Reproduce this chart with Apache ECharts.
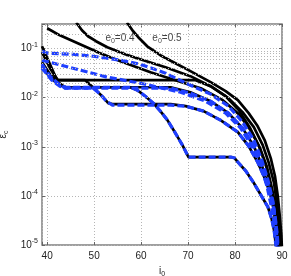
<!DOCTYPE html>
<html><head><meta charset="utf-8">
<script src="https://cdn.jsdelivr.net/npm/echarts@6/dist/echarts.min.js"></script>
<style>html,body{margin:0;padding:0;background:#fff}#c{width:291px;height:276px}</style>
</head><body><div id="c"></div>
<script>
// axis ranges / ticks
const xRange = [38.9, 90];
const yRange = [1e-5, 0.316];
const yMinorGrid = [2e-5,3e-5,4e-5,5e-5,6e-5,7e-5,8e-5,9e-5,
  2e-4,3e-4,4e-4,5e-4,6e-4,7e-4,8e-4,9e-4,
  2e-3,3e-3,4e-3,5e-3,6e-3,7e-3,8e-3,9e-3,
  2e-2,3e-2,4e-2,5e-2,6e-2,7e-2,8e-2,9e-2,
  2e-1,3e-1];

// black solid curves (analytic)  [i0, eps_c]
const K1 = [[57.0,0.34],[57.3,0.312],[58.3,0.225],[59.4,0.170],[61.3,0.111],[64.1,0.0731],[67.3,0.0503],[70.5,0.0346],[74.8,0.0207],[78.0,0.0136],[80.6,0.00889],[82.9,0.00484],[84.8,0.00264],[86.3,0.00137],[87.6,0.000589],[88.5,0.000254],[89.1,9.95e-5],[89.5,4.09e-5],[89.86,1.6e-5],[90.0,7.9e-6]];
const K2 = [[46.2,0.34],[46.4,0.312],[47.4,0.236],[48.7,0.178],[50.4,0.141],[52.8,0.106],[56.6,0.0765],[59.8,0.0606],[65.2,0.0417],[70.5,0.0274],[74.8,0.0171],[78.6,0.00977],[81.6,0.00507],[84.0,0.00251],[85.9,0.00108],[87.2,0.000466],[88.3,0.000183],[88.9,7.18e-5],[89.4,2.56e-5],[89.75,7.9e-6]];
const K3 = [[40.0,0.259],[42.7,0.186],[47.0,0.122],[51.3,0.0802],[55.6,0.0552],[62.0,0.0330],[67.3,0.0227],[72.7,0.0156],[77.4,0.00889],[80.8,0.00462],[83.3,0.00218],[85.3,0.000942],[86.8,0.000386],[87.8,0.000152],[88.7,5.68e-5],[89.2,2.23e-5],[89.5,7.9e-6]];
const K4 = [[38.9,0.111],[40.6,0.048],[42.1,0.0227],[71.6,0.0227],[74.8,0.0171],[78.0,0.0107],[80.8,0.00557],[83.1,0.00251],[85.1,0.00103],[86.6,0.000406],[87.6,0.000159],[88.5,5.94e-5],[89.0,2.23e-5],[89.3,7.9e-6]];
const K5 = [[38.9,0.0527],[40.6,0.0301],[42.3,0.0207],[43.8,0.0163],[66.3,0.0163],[70.5,0.0129],[74.8,0.00849],[78.6,0.00484],[81.6,0.0024],[84.0,0.00103],[85.7,0.000425],[87.0,0.000167],[88.1,6.53e-5],[88.7,2.44e-5],[89.1,7.9e-6]];
const K6 = [[38.9,0.0841],[40.6,0.0398],[42.3,0.0227],[48.1,0.0227],[50.2,0.0149],[51.9,0.0102],[53.0,0.00773],[53.9,0.00738],[66.3,0.00738],[69.5,0.00672],[73.3,0.00532],[76.9,0.00349],[80.6,0.00199],[82.9,0.00103],[84.8,0.000489],[86.3,0.000231],[87.6,0.000104],[88.5,4.09e-5],[89.0,1.6e-5],[89.2,7.9e-6]];
const K7 = [[38.9,0.0437],[40.6,0.0261],[42.3,0.0188],[44.0,0.0163],[57.7,0.0163],[59.2,0.0142],[60.9,0.0107],[62.6,0.00773],[64.1,0.00532],[65.6,0.00349],[67.3,0.0019],[68.8,0.00108],[70.1,0.000618],[79.1,0.000618],[79.9,0.000589],[80.6,0.000489],[82.3,0.000321],[84.0,0.000183],[85.5,0.000104],[87.0,5.94e-5],[87.8,3.39e-5],[88.3,2.03e-5],[88.7,1.0e-5],[88.9,7.5e-6]];

// blue dashed curves (numerical)
const D1 = [[38.9,0.0881],[40.2,0.0802],[45.5,0.0765],[49.8,0.0697],[55.6,0.0578],[59.8,0.048],[65.2,0.0315],[70.5,0.0179],[74.8,0.0118],[78.6,0.00672],[81.6,0.00318],[84.0,0.00137],[85.7,0.000537],[87.0,0.00021],[88.1,7.52e-5],[88.7,2.56e-5],[89.2,7.9e-6]];
const D2 = [[38.9,0.0578],[45.5,0.0398],[52.8,0.0261],[59.8,0.0197],[68.4,0.0129],[73.7,0.00849],[78.0,0.00484],[81.2,0.0024],[83.6,0.00103],[85.5,0.000406],[86.8,0.000159],[87.8,5.68e-5],[88.6,2.03e-5],[89.0,7.9e-6]];
const D3 = [[38.9,0.048],[40.6,0.0274],[42.3,0.0197],[43.8,0.0156],[66.3,0.0156],[70.5,0.0123],[74.8,0.00849],[78.6,0.00484],[81.6,0.0024],[84.0,0.00103],[85.7,0.000425],[87.0,0.000167],[88.1,6.53e-5],[88.7,2.44e-5],[89.1,7.9e-6]];
const D4 = [[38.9,0.0398],[41.0,0.0227],[42.7,0.0171],[44.0,0.0156],[49.8,0.0156],[51.3,0.0118],[52.6,0.00849],[53.9,0.00704],[66.3,0.00704],[69.5,0.00672],[73.3,0.00532],[76.9,0.00349],[80.6,0.00199],[82.9,0.00103],[84.8,0.000489],[86.3,0.000231],[87.6,0.000104],[88.5,4.09e-5],[89.0,1.6e-5],[89.2,7.9e-6]];
const D5 = [[38.9,0.0437],[40.6,0.0261],[42.3,0.0188],[44.0,0.0163],[57.7,0.0163],[59.2,0.0142],[60.9,0.0107],[62.6,0.00773],[64.1,0.00532],[65.6,0.00349],[67.3,0.0019],[68.8,0.00108],[70.1,0.000618],[79.1,0.000618],[79.9,0.000589],[80.6,0.000489],[82.3,0.000321],[84.0,0.000183],[85.5,0.000104],[87.0,5.94e-5],[87.8,3.39e-5],[88.3,2.03e-5],[88.7,1.0e-5],[88.9,7.5e-6]];

const labels = [{text:'0.4', at:[52.4,0.16]}, {text:'0.5', at:[62.4,0.16]}];

const FONT = 'Liberation Sans';
const chart = echarts.init(document.getElementById('c'), null, {renderer:'canvas'});

function blackSeries(d){return {type:'line', data:d, symbol:'none', z:3, silent:true,
  lineStyle:{color:'#000', width:2.7, join:'round'}, xAxisIndex:0, yAxisIndex:0};}
function blueSeries(d){return {type:'line', data:d, symbol:'none', z:4, silent:true,
  lineStyle:{color:'#1f3fff', width:3.2, type:[7,3], join:'round'}, xAxisIndex:0, yAxisIndex:0};}

const series = [];
series.push({type:'line', data:[], z:1, silent:true,
  markLine:{silent:true, symbol:'none', label:{show:false}, animation:false,
    lineStyle:{type:[1,2], color:'#b5b5b5', width:1},
    data: yMinorGrid.map(v=>({yAxis:v}))}});
[K1,K2,K3,K4,K5,K6,K7].forEach(d=>series.push(blackSeries(d)));
[D1,D2,D3,D4,D5].forEach(d=>series.push(blueSeries(d)));
series.push({type:'scatter', symbolSize:0, z:6, silent:true,
  data: labels.map(l=>({value:l.at, name:l.text})),
  label:{show:true, position:'right', distance:0, color:'#111', fontFamily:FONT,
    formatter:p=>'{e|e}{s|0}{e|='+p.name+'}',
    rich:{e:{fontSize:10, fontFamily:FONT, color:'#111'}, s:{fontSize:7, fontFamily:FONT, color:'#111', padding:[6,0,0,0]}}}});

function yFmt(v){
  const e = Math.log10(v); const r = Math.round(e);
  if (Math.abs(e-r) > 1e-6) return '';
  return '{b|10}{s|'+r+'}';
}
const tickStyle = {inside:true, length:3, lineStyle:{color:'#666'}};
chart.setOption({
  animation:false,
  grid:{left:42, top:24, right:9, bottom:31, show:true, borderColor:'#808080', borderWidth:1.5,
    containLabel:false, outerBoundsMode:'none'},
  xAxis:[{type:'value', min:xRange[0], max:xRange[1],
    name:'{a|i}{s|0}', nameLocation:'middle', nameGap:14,
    nameTextStyle:{rich:{a:{fontSize:10,fontFamily:FONT,color:'#222'}, s:{fontSize:7,fontFamily:FONT,color:'#222',padding:[6,0,0,0]}}},
    axisLine:{show:false}, axisTick:tickStyle,
    axisLabel:{fontSize:10, fontFamily:FONT, color:'#222', margin:6, formatter:v=> (Math.abs(v%10)<1e-9? String(v):'')},
    splitLine:{show:true, lineStyle:{type:[1,2], color:'#b5b5b5', width:1}}},
    {type:'value', position:'top', min:xRange[0], max:xRange[1], axisLine:{show:false},
     axisTick:tickStyle, axisLabel:{show:false}, splitLine:{show:false}}],
  yAxis:[{type:'log', logBase:10, min:yRange[0], max:yRange[1],
    name:'{a|ε}{s|c}', nameLocation:'middle', nameGap:28, nameRotate:90,
    nameTextStyle:{rich:{a:{fontSize:10,fontFamily:FONT,color:'#222'}, s:{fontSize:7,fontFamily:FONT,color:'#222',padding:[6,0,0,0]}}},
    axisLine:{show:false}, axisTick:tickStyle,
    axisLabel:{margin:4, formatter:yFmt,
      rich:{b:{fontSize:10,fontFamily:FONT,color:'#222'}, s:{fontSize:7,fontFamily:FONT,color:'#222',padding:[0,0,7,0]}}},
    splitLine:{show:true, lineStyle:{type:[1,2], color:'#b5b5b5', width:1}}},
    {type:'log', logBase:10, position:'right', min:yRange[0], max:yRange[1], axisLine:{show:false},
     axisTick:tickStyle, axisLabel:{show:false}, splitLine:{show:false}}],
  series
});
</script></body></html>
